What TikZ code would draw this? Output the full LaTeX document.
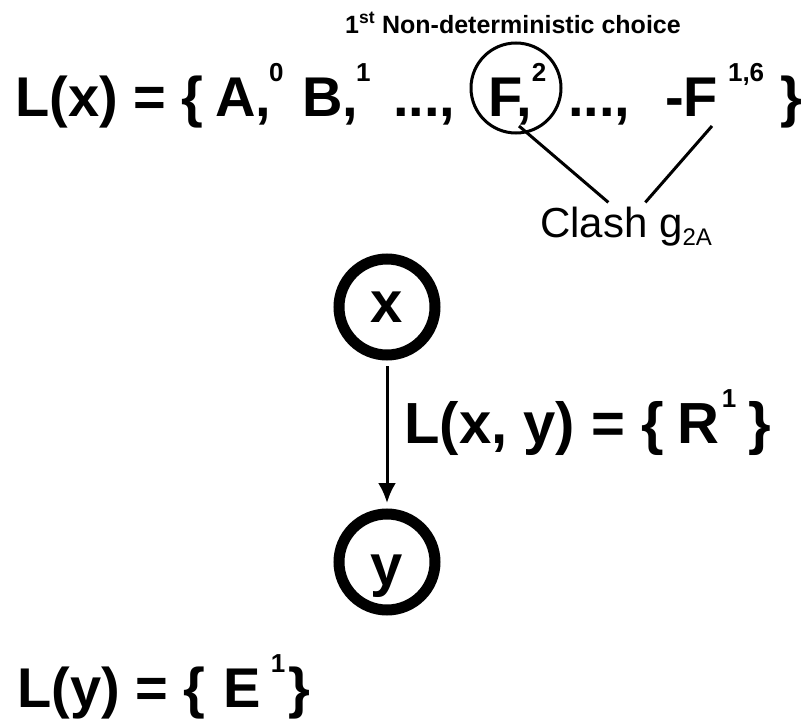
\documentclass[tikz,border=0pt]{standalone}
\usepackage{fontspec}
\setmainfont{Liberation Sans}
\usetikzlibrary{arrows.meta,calc}
\newcommand\supnum[1]{\raisebox{.62em}{\fontsize{26}{28}\selectfont #1}}

\begin{document}
\begin{tikzpicture}[
  x=1pt,y=-1pt,
  big/.style={font=\fontsize{56}{60}\selectfont\bfseries,anchor=base west,inner sep=0pt},
  state/.style={circle,draw,line width=11pt,minimum size=96pt,inner sep=0pt,
                font=\fontsize{58}{60}\selectfont\bfseries},
  flow/.style={-{Latex[length=20pt,width=18pt]},line width=3pt,
               shorten <=5.5pt,shorten >=5.5pt},
  link/.style={line width=3pt},
  note/.style={font=\fontsize{42}{46}\selectfont,anchor=base west,inner sep=0pt}
]
\useasboundingbox (0,0) rectangle (807,720);

% Label set of x.
\node[anchor=base west,inner sep=0pt,font=\fontsize{25}{28}\selectfont\bfseries]
  (title) at (345,33) {1\textsuperscript{st} Non-deterministic choice};
\node[big] (lx) at (15,116)  {L(x) = \{};
\node[big] (a)  at (215,116) {A,\kern-2pt\supnum{0}};
\node[big] (b)  at (302,116) {B,\kern-2pt\supnum{1}};
\node[big] (d1) at (393,116) {...,};
\node[big] (f)  at (488,116) {F,\supnum{2}};
\node[big] (d2) at (568,116) {...,};
\node[big] (nf) at (665,116) {-F\hspace{10pt}\supnum{1,6}};
\node[big] (rb) at (780,116) {\}};
\node[circle,draw,line width=3pt,minimum size=90pt] (choice) at (516,88) {};

% The clash between F and -F.
\node[note] (clash) at (540,237) {Clash g\textsubscript{\fontsize{24}{24}\selectfont 2A}};
\coordinate (fhook) at (519,126);
\coordinate (nhook) at (712,126);
\draw[link] (fhook) -- ($(clash.north)+(-18,-4)$);
\draw[link] (nhook) -- ($(clash.north)+(19,-4)$);

% Nodes and the edge.
\node[state] (x) at (387,307) {x};
\node[state,text height=46pt,text depth=0pt] (y) at (387,562) {y};
\draw[flow] (x) -- (y)
  node[pos=.42,right=16pt,inner sep=0pt,font=\fontsize{58}{60}\selectfont\bfseries]
  (lxy) {L(x, y) = \{\hspace{14pt}R\kern2pt\supnum{1}\hspace{12pt}\}};

\node[big] (ly) at (17,707)
  {L(y) = \{\hspace{18pt}E\hspace{10pt}\supnum{1}\hspace{3pt}\}};

\end{tikzpicture}
\end{document}
